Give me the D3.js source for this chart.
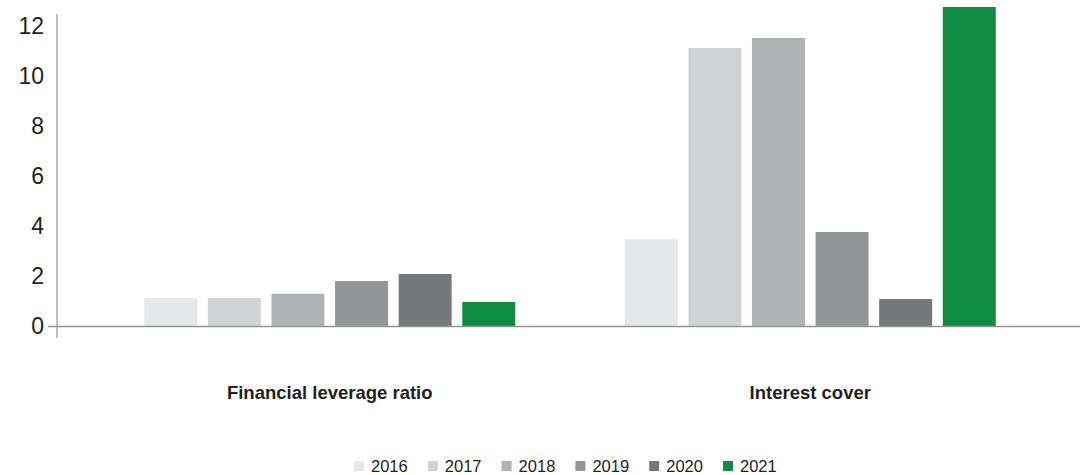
<!DOCTYPE html>
<html>
<head>
<meta charset="utf-8">
<script src="https://cdn.jsdelivr.net/npm/d3@7"></script>
<style>
  html, body { margin: 0; padding: 0; background: #fff; }
  svg { display: block; font-family: "Liberation Sans", Arial, Helvetica, sans-serif; }
</style>
</head>
<body>
<svg id="chart" width="1080" height="475"></svg>
<script>
// Chart data
const categories = ["Financial leverage ratio", "Interest cover"];
const years = ["2016", "2017", "2018", "2019", "2020", "2021"];
const values = {
  "2016": [1.12, 3.48],
  "2017": [1.12, 11.12],
  "2018": [1.29, 11.52],
  "2019": [1.8, 3.76],
  "2020": [2.08, 1.08],
  "2021": [0.96, 12.76]
};
const yTicks = [0, 2, 4, 6, 8, 10, 12];
const colors = ["#e6e7e8", "#d1d2d4", "#b1b2b6", "#949599", "#77787c", "#0f8c43"];

const svg = d3.select("#chart");
const W = 1080;
const groupWidth = 371;

const y = d3.scaleLinear().domain([0, 12]).range([326, 26]);
const x0 = d3.scaleBand().domain(categories).range([89.5, 1050.5]).padding(0);
const x1 = d3.scaleBand().domain(years).range([0, groupWidth]).paddingInner(0.167).paddingOuter(0);
const groupOffset = (x0.bandwidth() - groupWidth) / 2;

// Bars
categories.forEach((cat, ci) => {
  const g = svg.append("g").attr("transform", `translate(${x0(cat) + groupOffset},0)`);
  years.forEach((yr, yi) => {
    const v = values[yr][ci];
    g.append("rect")
      .attr("x", x1(yr))
      .attr("y", y(v))
      .attr("width", x1.bandwidth())
      .attr("height", y(0) - y(v))
      .attr("fill", colors[yi]);
  });
});

// Axis lines
svg.append("line")
  .attr("x1", 48).attr("x2", W)
  .attr("y1", y(0) + 0.5).attr("y2", y(0) + 0.5)
  .attr("stroke", "#939598").attr("stroke-width", 1.5);
svg.append("line")
  .attr("x1", 57).attr("x2", 57)
  .attr("y1", 14).attr("y2", 338)
  .attr("stroke", "#939598").attr("stroke-width", 1.2);

// Y tick labels
svg.append("g").selectAll("text").data(yTicks).join("text")
  .attr("x", 44)
  .attr("y", d => y(d))
  .attr("dy", "0.36em")
  .attr("text-anchor", "end")
  .attr("font-size", 23)
  .attr("fill", "#231f20")
  .text(d => d);

// Category labels
svg.append("g").selectAll("text").data(categories).join("text")
  .attr("x", d => x0(d) + x0.bandwidth() / 2)
  .attr("y", 399)
  .attr("text-anchor", "middle")
  .attr("font-size", 18.5)
  .attr("font-weight", "bold")
  .attr("fill", "#231f20")
  .text(d => d);

// Legend
const legend = svg.append("g").attr("transform", "translate(354,0)");
years.forEach((yr, i) => {
  const lg = legend.append("g").attr("transform", `translate(${i * 73.8},0)`);
  lg.append("rect").attr("x", 0).attr("y", 461).attr("width", 10).attr("height", 10).attr("fill", colors[i]);
  lg.append("text").attr("x", 17).attr("y", 472)
    .attr("font-size", 16.5).attr("fill", "#231f20").text(yr);
});
</script>
</body>
</html>
